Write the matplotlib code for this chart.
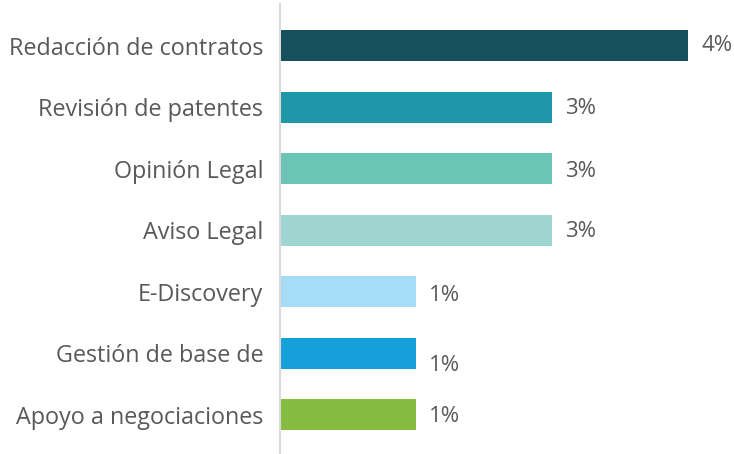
import matplotlib
matplotlib.use("Agg")
import matplotlib.pyplot as plt

categories = ["Redacción de contratos", "Revisión de patentes", "Opinión Legal",
              "Aviso Legal", "E-Discovery", "Gestión de base de", "Apoyo a negociaciones"]
values = [4.2, 2.8, 2.8, 2.8, 1.4, 1.4, 1.4]
value_labels = ["4%", "3%", "3%", "3%", "1%", "1%", "1%"]
colors = ["#16505c", "#1e98a9", "#6cc4b4", "#9fd6d2", "#a6dcf5", "#16a0da", "#86bd40"]

plt.rcParams['font.family'] = ['Open Sans', 'DejaVu Sans']
text_color = "#595959"

W, H = 734, 454
fig = plt.figure(figsize=(W / 100, H / 100), dpi=100)
ax = fig.add_axes([280 / W, 0, (W - 280) / W, 450 / H])

y = list(range(len(categories)))
ax.barh(y, values, height=0.503, color=colors)
ax.set_xlim(0, 4.674)
ax.set_ylim(6.674 - 0.04, -0.674)
ax.set_yticks(y)
ax.set_yticklabels(categories, fontsize=16.8, color=text_color)
ax.tick_params(axis='y', length=0, pad=12)
ax.set_xticks([])
for s in ['top', 'right', 'bottom']:
    ax.spines[s].set_visible(False)
ax.spines['left'].set_color('#d9d9d9')
ax.spines['left'].set_linewidth(1.5)

dy = [0, -1.5, -3, -1.5, -4, -12, -2]
for i, (v, lab) in enumerate(zip(values, value_labels)):
    ax.annotate(lab, (v, i), xytext=(9.5, dy[i] * 0.72), textcoords='offset points',
                ha='left', va='center', fontsize=16, color=text_color)

fig.savefig("out.png", dpi=100)
